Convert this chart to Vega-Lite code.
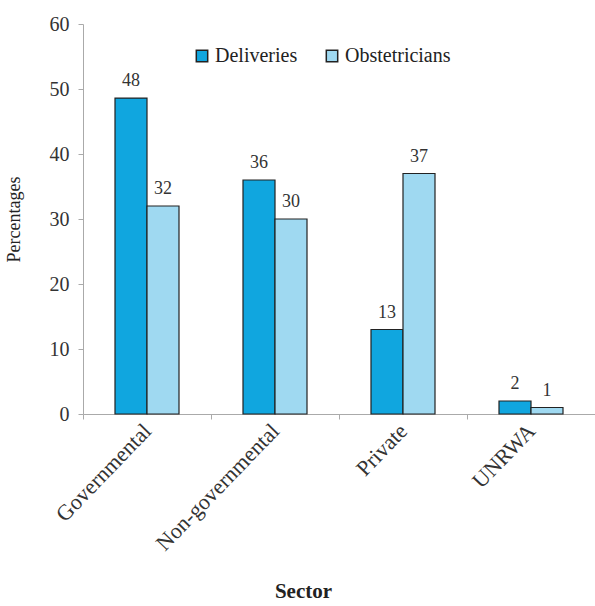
{
  "$schema": "https://vega.github.io/schema/vega-lite/v6.json",
  "width": 512,
  "height": 390,
  "autosize": {"type": "none"},
  "padding": {"left": 83, "top": 24, "right": 0, "bottom": 192},
  "background": "white",
  "data": {
    "values": [
      {"sector": "Governmental", "type": "Deliveries", "value": 48.6, "label": "48"},
      {"sector": "Governmental", "type": "Obstetricians", "value": 32, "label": "32"},
      {"sector": "Non-governmental", "type": "Deliveries", "value": 36, "label": "36"},
      {"sector": "Non-governmental", "type": "Obstetricians", "value": 30, "label": "30"},
      {"sector": "Private", "type": "Deliveries", "value": 13, "label": "13"},
      {"sector": "Private", "type": "Obstetricians", "value": 37, "label": "37"},
      {"sector": "UNRWA", "type": "Deliveries", "value": 2, "label": "2"},
      {"sector": "UNRWA", "type": "Obstetricians", "value": 1, "label": "1"}
    ]
  },
  "config": {
    "font": "Liberation Serif",
    "view": {"stroke": null}
  },
  "encoding": {
    "x": {
      "field": "sector", "type": "nominal", "sort": null,
      "scale": {"paddingInner": 0, "paddingOuter": 0},
      "axis": {
        "title": "Sector", "titleFontSize": 21, "titleFontWeight": "bold", "titleColor": "#222",
        "titlePadding": 26, "titleX": 220,
        "labelAngle": -46, "labelFontSize": 22, "labelColor": "#333", "labelPadding": 8,
        "labelBaseline": "middle", "labelDx": -6,
        "tickBand": "extent", "domainColor": "#aaa", "tickColor": "#aaa", "tickSize": 5
      }
    },
    "xOffset": {"field": "type", "type": "nominal", "scale": {"paddingInner": 0, "paddingOuter": 1.7}},
    "y": {
      "field": "value", "type": "quantitative",
      "scale": {"domain": [0, 60]},
      "axis": {
        "title": "Percentages", "titleFontSize": 18, "titleFontWeight": "normal", "titleColor": "#222",
        "titlePadding": 26,
        "values": [0, 10, 20, 30, 40, 50, 60], "grid": false,
        "labelFontSize": 20, "labelColor": "#333", "labelPadding": 9,
        "domainColor": "#aaa", "tickColor": "#aaa", "tickSize": 5
      }
    }
  },
  "layer": [
    {
      "mark": {"type": "bar", "stroke": "#222", "strokeWidth": 1.2},
      "encoding": {
        "color": {
          "field": "type", "type": "nominal",
          "scale": {"domain": ["Deliveries", "Obstetricians"], "range": ["#10a6df", "#9fd9f1"]},
          "legend": {
            "title": null, "orient": "none", "legendX": 109, "legendY": 22,
            "direction": "horizontal", "columns": 2, "columnPadding": 24,
            "symbolType": "square", "symbolSize": 130, "symbolStrokeColor": "#222", "symbolStrokeWidth": 1.5,
            "labelFontSize": 20, "labelColor": "#222", "labelOffset": 3
          }
        }
      }
    },
    {
      "mark": {"type": "text", "baseline": "bottom", "dy": -8, "fontSize": 18, "color": "#333"},
      "encoding": {"text": {"field": "label"}}
    }
  ]
}
